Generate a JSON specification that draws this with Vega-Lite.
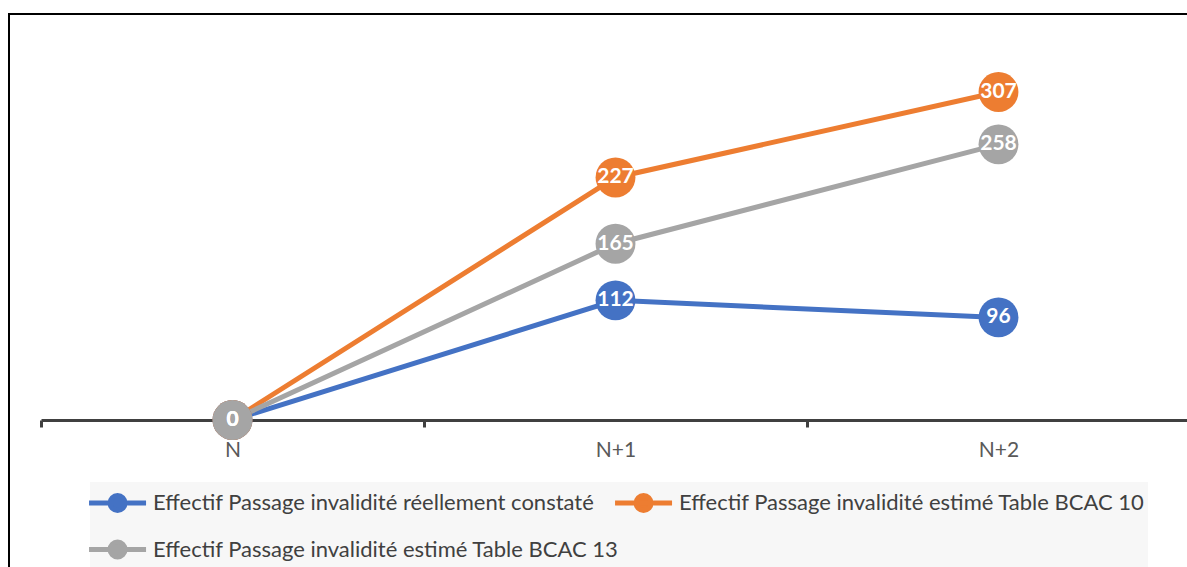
{
  "$schema": "https://vega.github.io/schema/vega-lite/v6.json",
  "width": 1215,
  "height": 566,
  "autosize": {"type": "none"},
  "padding": {"left": 9, "top": 14, "right": 0, "bottom": 0},
  "background": "white",
  "config": {
    "view": {"stroke": "#000000", "strokeWidth": 2},
    "font": "Lato"
  },
  "data": {
    "values": [
      {"series": "Effectif Passage invalidité réellement constaté", "period": "N", "value": 0},
      {"series": "Effectif Passage invalidité réellement constaté", "period": "N+1", "value": 112},
      {"series": "Effectif Passage invalidité réellement constaté", "period": "N+2", "value": 96},
      {"series": "Effectif Passage invalidité estimé Table BCAC 10", "period": "N", "value": 0},
      {"series": "Effectif Passage invalidité estimé Table BCAC 10", "period": "N+1", "value": 227},
      {"series": "Effectif Passage invalidité estimé Table BCAC 10", "period": "N+2", "value": 307},
      {"series": "Effectif Passage invalidité estimé Table BCAC 13", "period": "N", "value": 0},
      {"series": "Effectif Passage invalidité estimé Table BCAC 13", "period": "N+1", "value": 165},
      {"series": "Effectif Passage invalidité estimé Table BCAC 13", "period": "N+2", "value": 258}
    ]
  },
  "encoding": {
    "x": {
      "field": "period",
      "type": "nominal",
      "sort": ["N", "N+1", "N+2"],
      "scale": {"range": [32, 1181], "paddingInner": 0, "paddingOuter": 0},
      "axis": {
        "title": null,
        "orient": "bottom",
        "offset": -160,
        "labelAngle": 0,
        "tickBand": "extent",
        "domainColor": "#404040",
        "domainWidth": 3,
        "tickColor": "#404040",
        "tickWidth": 3,
        "tickSize": 7,
        "labelPadding": 12,
        "labelColor": "#595959",
        "labelFontSize": 21,
        "labelFont": "Lato",
        "grid": false
      }
    },
    "y": {
      "field": "value",
      "type": "quantitative",
      "scale": {"domain": [-149.75, 380], "nice": false, "zero": false},
      "axis": null
    },
    "color": {
      "field": "series",
      "type": "nominal",
      "scale": {
        "domain": [
          "Effectif Passage invalidité réellement constaté",
          "Effectif Passage invalidité estimé Table BCAC 10",
          "Effectif Passage invalidité estimé Table BCAC 13"
        ],
        "range": ["#4472C4", "#ED7D31", "#A5A5A5"]
      },
      "legend": {
        "title": null,
        "orient": "none",
        "legendX": 81,
        "legendY": 468,
        "direction": "horizontal",
        "columns": 2,
        "fillColor": "#F7F7F7",
        "padding": 3,
        "rowPadding": 10,
        "columnPadding": -14,
        "symbolType": "M-1.43,0L2.37,0M-0.03,0A0.5,0.5,0,1,1,0.97,0A0.5,0.5,0,1,1,-0.03,0",
        "symbolSize": 900,
        "symbolStrokeWidth": 5,
        "labelOffset": 25,
        "labelFontSize": 22,
        "labelFont": "Lato",
        "labelColor": "#404040",
        "labelLimit": 0,
        "encode": {
          "symbols": {
            "update": {
              "fill": {"scale": "color", "field": "value"},
              "stroke": {"scale": "color", "field": "value"},
              "strokeWidth": {"value": 5},
              "opacity": {"value": 1}
            }
          }
        }
      }
    }
  },
  "layer": [
    {"mark": {"type": "line", "strokeWidth": 5}},
    {"mark": {"type": "point", "filled": true, "size": 1590, "opacity": 1, "shape": "circle"}},
    {
      "mark": {"type": "text", "color": "white", "fontWeight": "bold", "fontSize": 21, "font": "Lato", "align": "center", "baseline": "middle"},
      "encoding": {"text": {"field": "value", "type": "quantitative"}, "color": {"value": "white"}}
    }
  ]
}
